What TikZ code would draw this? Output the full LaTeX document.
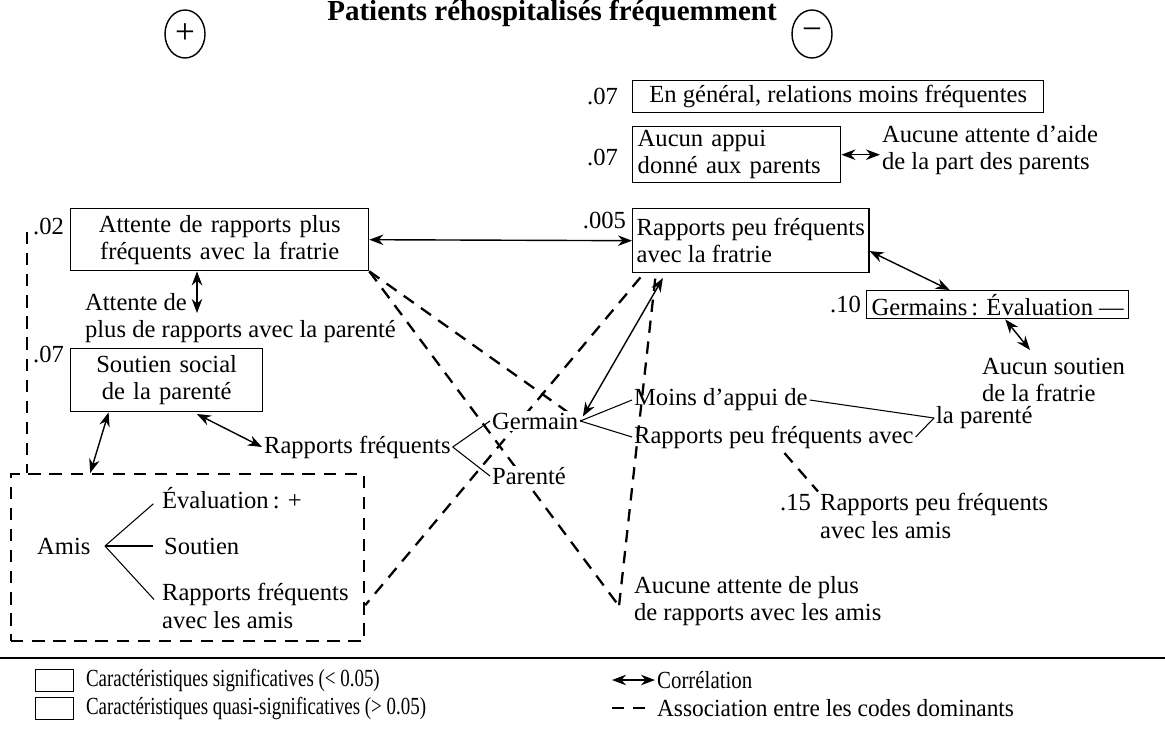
\documentclass[tikz,border=0pt]{standalone}
\usepackage{fontspec}
\setmainfont{Liberation Serif}
\usepackage{graphicx}
\usetikzlibrary{arrows.meta,shapes.geometric,backgrounds}

\begin{document}
\begin{tikzpicture}[%%
  x=0.02cm,y=-0.02cm,%%
  every node/.style={font=\fontsize{14}{15.5}\selectfont},%%
  boxStyle/.style={draw,line width=0.8pt,anchor=north west,inner xsep=0.1cm,inner ysep=0pt,align=left},%%
  textStyle/.style={anchor=west,inner sep=1pt,align=left},%%
  numStyle/.style={anchor=east,inner sep=1pt},%%
  signStyle/.style={draw,ellipse,line width=0.8pt,minimum width=0.8cm,minimum height=0.96cm,inner sep=0pt,font=\fontsize{20}{20}\selectfont},%%
  arrowStyle/.style={{Stealth[length=8pt,width=6pt]}-{Stealth[length=8pt,width=6pt]},line width=0.8pt},%%
  dashStyle/.style={line width=1.3pt,dash pattern=on 7pt off 5pt},%%
  lineStyle/.style={-,line width=0.6pt},%%
  legendStyle/.style={anchor=west,inner sep=1pt,font=\fontsize{14}{15}\selectfont}
]
\useasboundingbox (0,0) rectangle (1165,730);
%%
%% Title and signs.
\node[anchor=base,font=\bfseries\fontsize{16.5}{18}\selectfont] (title) at (552,20) {Patients réhospitalisés fréquemment};
\node[signStyle] (plusSign) at (185,34) {+};
\node[signStyle] (minusSign) at (812,34) {−};
%%
%% Boxes on the right.
\node[boxStyle,minimum width=8.22cm,minimum height=0.64cm,align=center] (generalBox) at (632,80) {En général, relations moins fréquentes};
\node[numStyle] (generalP) at (620,96) {.07};
\node[boxStyle,text width=3.96cm,minimum height=1.12cm] (appuiBox) at (632,126) {Aucun appui\\donné aux parents};
\node[numStyle] (appuiP) at (620,157) {.07};
\node[textStyle] (aideText) at (880,150) {Aucune attente d’aide\\de la part des parents};
\draw[arrowStyle] (appuiBox.east) -- (appuiBox.east -| aideText.west);
%%
%% Siblings.
\node[boxStyle,align=center,text width=5.76cm,minimum height=1.24cm] (attenteBox) at (70,208) {Attente de rapports plus\\fréquents avec la fratrie};
\node[numStyle] (attenteP) at (66,226) {.02};
\node[boxStyle,inner xsep=0.08cm,minimum width=4.6cm,minimum height=1.28cm] (fratrieBox) at (632,208) {Rapports peu fréquents\\avec la fratrie};
\node[numStyle] (fratrieP) at (628,220) {.005};
\draw[arrowStyle] (attenteBox.east) -- (fratrieBox.west);
\node[textStyle] (parenteAttente) at (83,318) {Attente de\\plus de rapports avec la parenté};
\coordinate (parenteTip) at (197,313);
\draw[arrowStyle] (attenteBox.south -| parenteTip) -- (parenteTip);
\node[boxStyle,align=center,text width=3.64cm,minimum height=1.26cm] (soutienBox) at (70,348) {Soutien social\\de la parenté};
\node[numStyle] (soutienP) at (66,354) {.07};
\node[boxStyle,align=center,minimum width=4.8cm,minimum height=0.56cm] (germainsBox) at (866,290) {Germains\,: Évaluation —};
\node[numStyle] (germainsP) at (863,304) {.10};
\draw[arrowStyle] (fratrieBox.-5) -- (germainsBox.163);
\node[textStyle] (fratrieSoutien) at (980,380) {Aucun soutien\\de la fratrie};
\coordinate (fratrieSoutienTip) at (1030,350);
\draw[arrowStyle] (germainsBox.-63) -- (fratrieSoutienTip);
%%
%% Friends.
\node[draw,dashStyle,anchor=north west,inner sep=0pt,minimum width=7.06cm,minimum height=3.34cm] (amisBox) at (10,473) {};
\node[textStyle] (amisText) at (35,546) {Amis};
\coordinate (amisApex) at (105,546);
\node[textStyle] (amisEval) at (160,498) {Évaluation\,: +};
\node[textStyle] (amisSoutien) at (162,546) {Soutien};
\node[textStyle] (amisRapports) at (160,606) {Rapports fréquents\\avec les amis};
\draw[lineStyle,shorten >=5pt] (amisApex) -- (amisEval.west);
\draw[lineStyle,shorten >=5pt] (amisApex) -- (amisSoutien.west);
\draw[lineStyle,shorten >=5pt] (amisApex) -- (amisRapports.west);
\draw[arrowStyle] (soutienBox.-151) -- (amisBox.139);
%%
%% Centre.
\node[textStyle] (rapportsFreq) at (262,447) {Rapports fréquents};
\node[textStyle,fill=white] (germainText) at (490,421) {Germain};
\node[textStyle,fill=white] (parenteText) at (490,476) {Parenté};
\draw[lineStyle] (rapportsFreq.east) -- (germainText.west);
\draw[lineStyle] (rapportsFreq.east) -- (parenteText.west);
\draw[arrowStyle,shorten <=2pt] (soutienBox.-50) -- (rapportsFreq.west);
\node[textStyle] (moinsText) at (632,400) {Moins d’appui de};
\node[textStyle] (peuText) at (632,437) {Rapports peu fréquents avec};
\node[textStyle] (laParente) at (934,418) {la parenté};
\draw[lineStyle] (germainText.east) -- (moinsText.west);
\draw[lineStyle] (germainText.east) -- (peuText.west);
\draw[lineStyle] (moinsText.east) -- (laParente.west);
\draw[lineStyle] (peuText.east) -- (laParente.west);
\draw[arrowStyle,shorten <=3pt,shorten >=3pt] (fratrieBox.-159) -- (germainText.east);
\node[textStyle] (amisP) at (778,503) {.15};
\node[textStyle] (amisPeu) at (818,516) {Rapports peu fréquents\\avec les amis};
\node[textStyle] (aucuneText) at (632,601) {Aucune attente de plus\\de rapports avec les amis};
\coordinate (aucuneTip) at (619,606);
%%
%% Associations between dominant codes.
\begin{scope}[on background layer]
\draw[dashStyle] (attenteBox.south east) -- (aucuneTip);
\draw[dashStyle] (attenteBox.south east) -- (germainText.east);
\draw[dashStyle,shorten <=3pt] (fratrieBox.-163) -- (amisBox.-15);
\draw[dashStyle,shorten <=3pt] (fratrieBox.-161) -- (aucuneTip);
\draw[dashStyle,shorten <=2pt] (peuText.-58) -- (amisPeu.north west);
\coordinate (parenteLine) at (27,232);
\draw[dashStyle] (parenteLine) -- (parenteLine |- amisBox.north);
\end{scope}
%%
%% Legend.
\coordinate (ruleL) at (0,658);
\coordinate (ruleR) at (1165,658);
\draw[line width=0.8pt] (ruleL) -- (ruleR);
\node[boxStyle,inner sep=0pt,minimum width=0.76cm,minimum height=0.44cm] (sigKey) at (35,669) {};
\node[legendStyle] (sigText) at (84,680) {\scalebox{0.77}[1]{Caractéristiques significatives (< 0.05)}};
\node[boxStyle,inner sep=0pt,minimum width=0.76cm,minimum height=0.44cm] (quasiKey) at (35,697) {};
\node[legendStyle] (quasiText) at (84,708) {\scalebox{0.77}[1]{Caractéristiques quasi-significatives (> 0.05)}};
\coordinate (corrKey) at (612,680);
\node[legendStyle] (corrText) at (655,680) {\scalebox{0.85}[1]{Corrélation}};
\draw[arrowStyle] (corrKey) -- (corrText.west);
\coordinate (assocKey) at (612,708);
\node[legendStyle] (assocText) at (655,708) {\scalebox{0.95}[1]{Association entre les codes dominants}};
\draw[dashStyle,shorten >=3pt] (assocKey) -- (assocText.west);
\end{tikzpicture}
\end{document}
